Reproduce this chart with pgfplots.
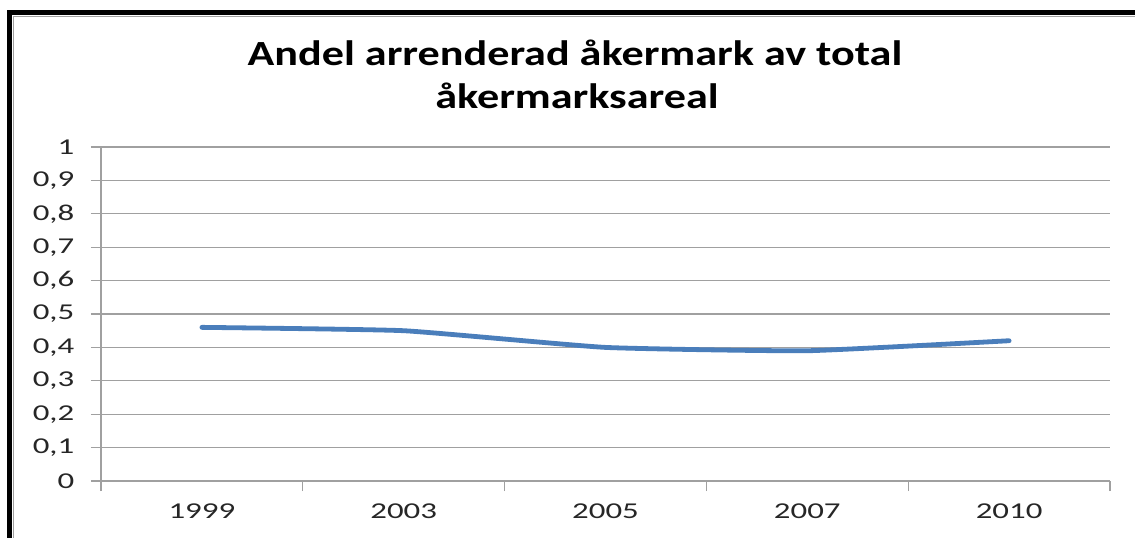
\documentclass[border=0pt]{standalone}
\usepackage{pgfplots}
\pgfplotsset{compat=1.18}
\usepackage{fontspec}
\setmainfont{Carlito}
\newfontfamily\tickfont{Carlito}[FakeStretch=1.45]
\newfontfamily\titlefont{Carlito}[FakeStretch=1.25]
\definecolor{linecol}{HTML}{4A7EBB}
\definecolor{gridcol}{HTML}{A0A0A0}
\begin{document}
\begin{tikzpicture}
\path[use as bounding box] (0pt,0pt) rectangle (851.25pt,402.75pt);
\clip (0pt,0pt) rectangle (851.25pt,402.75pt);
\fill[white] (0pt,0pt) rectangle (851.25pt,402.75pt);
\draw[gridcol, line width=1pt] (10.2pt,-5pt) -- (10.2pt,390.6pt) -- (860pt,390.6pt);
\draw[black, line width=3.9pt] (7.1pt,-5pt) -- (7.1pt,393.4pt) -- (860pt,393.4pt);
\node[anchor=base, font=\titlefont\bfseries\fontsize{26.5}{31}\selectfont] at (431.25pt,353.25pt) {Andel arrenderad åkermark av total};
\node[anchor=base, font=\titlefont\bfseries\fontsize{26.5}{31}\selectfont] at (432.75pt,321.75pt) {åkermarksareal};
\begin{axis}[
  at={(75.75pt,42pt)}, anchor=south west,
  scale only axis, width=756.75pt, height=250.5pt,
  xmin=-0.5, xmax=4.5, ymin=0, ymax=1,
  axis x line*=bottom, axis y line*=left,
  axis line style={gridcol, line width=1pt},
  every outer x axis line/.append style={-}, every outer y axis line/.append style={-},
  xtick={0,1,2,3,4},
  xticklabels={1999,2003,2005,2007,2010},
  major x tick style={draw=none},
  minor xtick={-0.5,0.5,1.5,2.5,3.5,4.5},
  minor x tick style={gridcol, line width=1pt},
  ytick={0,0.1,0.2,0.3,0.4,0.5,0.6,0.7,0.8,0.9,1},
  yticklabels={0,{0,1},{0,2},{0,3},{0,4},{0,5},{0,6},{0,7},{0,8},{0,9},1},
  ymajorgrids,
  grid style={gridcol, line width=1pt},
  y tick style={gridcol, line width=1pt},
  tick align=outside,
  major tick length=7.5pt, minor tick length=7.5pt,
  ticklabel style={font=\tickfont\fontsize{17}{20}\selectfont, text=black!85},
  yticklabel style={xshift=-9pt},
  xticklabel style={yshift=-6pt},
  clip=false,
]
\addplot[linecol, line width=3.6pt, smooth, tension=0.25, line cap=round] coordinates {
(0,0.46) (1,0.45) (2,0.40) (3,0.39) (4,0.42)
};
\end{axis}
\end{tikzpicture}
\end{document}
